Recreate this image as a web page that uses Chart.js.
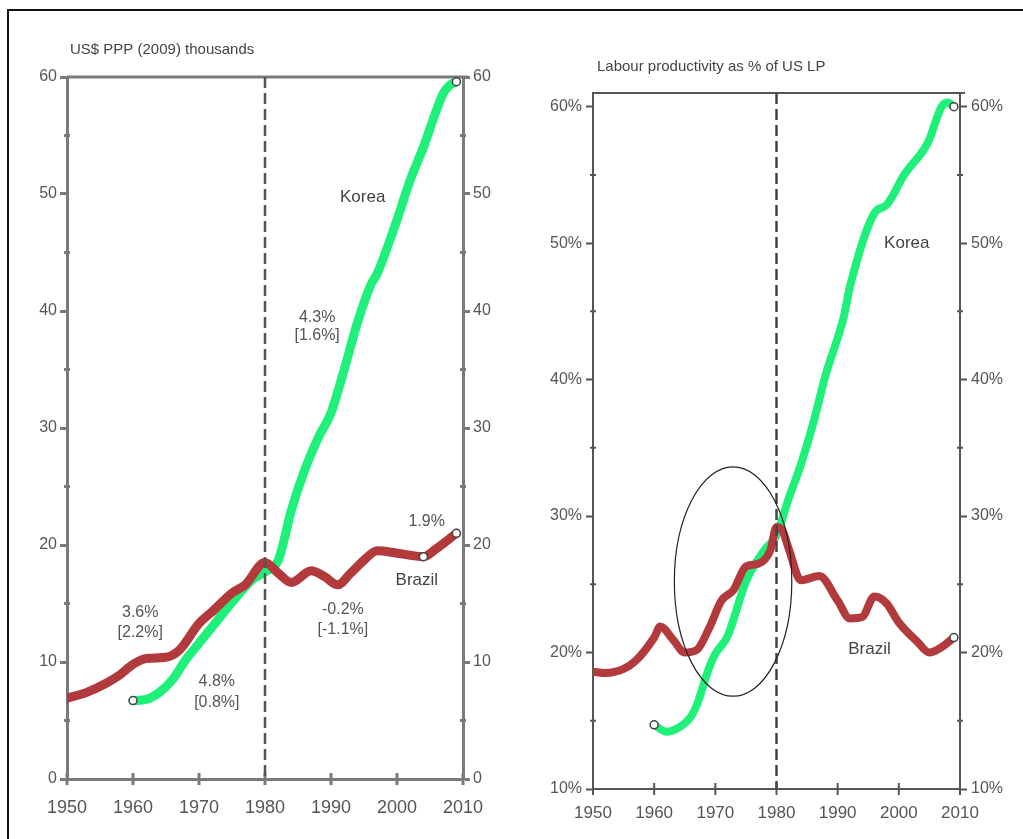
<!DOCTYPE html>
<html>
<head>
<meta charset="utf-8">
<script src="https://cdn.jsdelivr.net/npm/chart.js@4.4.1/dist/chart.umd.min.js"></script>
<style>
  body { margin: 0; background: #fff; }
  #frame { position: absolute; left: 7px; top: 9px; width: 1040px; height: 860px; border: 2px solid #111; box-sizing: border-box; }
  canvas { position: absolute; top: 0; }
</style>
</head>
<body>
<div id="frame"></div>
<canvas id="left" width="510" height="839" style="left:0"></canvas>
<canvas id="right" width="513" height="839" style="left:510px"></canvas>
<script>
// left panel: US$ PPP (2009) thousands
const brazilYearsL = [1950, 1953, 1956, 1958, 1960, 1962, 1965, 1967, 1970, 1972, 1975, 1977, 1980, 1982, 1984, 1987, 1989, 1991, 1993, 1995, 1997, 2000, 2004, 2006, 2009];
const brazilGdp    = [6.9, 7.4, 8.2, 8.9, 9.8, 10.3, 10.4, 11.0, 13.3, 14.3, 15.9, 16.6, 18.5, 17.6, 16.8, 17.8, 17.3, 16.6, 17.6, 18.7, 19.5, 19.3, 19.0, 19.7, 21.0];
const koreaYearsL  = [1960, 1962, 1964, 1966, 1968, 1970, 1972, 1975, 1978, 1980, 1982, 1984, 1986, 1988, 1990, 1992, 1994, 1996, 1997, 2000, 2002, 2004, 2006, 2007, 2008, 2009];
const koreaGdp     = [6.7, 6.8, 7.4, 8.5, 10.2, 11.6, 13.0, 15.1, 17.0, 17.7, 18.7, 23.0, 26.4, 29.1, 31.3, 35.0, 39.0, 42.2, 43.2, 47.8, 51.2, 54.0, 57.2, 58.6, 59.3, 59.6];
const brazilMarksL = [2004, 2009];
const koreaMarksL  = [1960, 2009];
const gdpTicks     = [0, 10, 20, 30, 40, 50, 60];

// right panel: labour productivity as % of US
const brazilYearsR = [1950, 1952, 1955, 1957, 1960, 1961, 1963, 1965, 1967, 1969, 1971, 1973, 1975, 1977, 1979, 1980, 1981, 1982, 1984, 1987, 1990, 1992, 1994, 1996, 1998, 2000, 2003, 2005, 2007, 2009];
const brazilLP     = [18.6, 18.5, 18.8, 19.4, 21.1, 21.9, 21.0, 20.0, 20.2, 21.8, 23.8, 24.6, 26.3, 26.5, 27.5, 29.2, 28.9, 27.6, 25.3, 25.6, 23.8, 22.5, 22.6, 24.1, 23.6, 22.2, 20.8, 20.0, 20.4, 21.1];
const koreaYearsR  = [1960, 1962, 1964, 1966, 1967, 1969, 1970, 1972, 1975, 1978, 1980, 1982, 1984, 1986, 1988, 1991, 1992, 1996, 1998, 2001, 2004, 2005, 2006, 2007, 2008, 2009];
const koreaLP      = [14.7, 14.2, 14.5, 15.3, 16.2, 18.9, 19.9, 21.2, 25.2, 27.5, 28.6, 31.3, 33.8, 36.8, 40.3, 44.6, 46.8, 52.2, 52.8, 55.1, 56.8, 57.6, 58.9, 60.0, 60.3, 60.0];
const brazilMarksR = [2009];
const koreaMarksR  = [1960, 2009];
const lpTicks      = [10, 20, 30, 40, 50, 60];

const yearTicks = [1950, 1960, 1970, 1980, 1990, 2000, 2010];
const breakYear = 1980;

const BRAZIL = '#b23a3c';
const KOREA = '#1ef07a';
const FONT = 'Liberation Sans, Arial, sans-serif';

const extras = {
  id: 'extras',
  beforeDatasetsDraw(chart, args, o) {
    const { ctx, chartArea: a, scales: { x, y } } = chart;
    ctx.save();
    ctx.strokeStyle = o.axisColor;
    ctx.lineWidth = o.axisWidth;
    ctx.beginPath();
    ctx.moveTo(a.left, a.top);
    ctx.lineTo(a.right + 5, a.top);
    ctx.stroke();
    // minor ticks every 5 units
    for (let v = Math.ceil(y.min / 10) * 10 + 5; v < y.max; v += 10) {
      const py = y.getPixelForValue(v);
      ctx.beginPath();
      ctx.moveTo(a.left - 3, py); ctx.lineTo(a.left + 3, py);
      ctx.moveTo(a.right - 3, py); ctx.lineTo(a.right + 3, py);
      ctx.stroke();
    }
    // x ticks crossing the axis
    yearTicks.forEach(t => {
      const px = x.getPixelForValue(t);
      ctx.beginPath();
      ctx.moveTo(px, a.bottom - 6); ctx.lineTo(px, a.bottom + 6);
      ctx.stroke();
    });
    ctx.restore();
  },
  afterDatasetsDraw(chart, args, o) {
    const { ctx, chartArea: a, scales: { x, y } } = chart;
    ctx.save();
    const px = x.getPixelForValue(breakYear);
    ctx.strokeStyle = o.dashColor;
    ctx.lineWidth = 2.5;
    ctx.setLineDash([11, 5]);
    ctx.beginPath();
    ctx.moveTo(px, a.top); ctx.lineTo(px, a.bottom);
    ctx.stroke();
    ctx.setLineDash([]);
    if (o.ellipse) {
      const e = o.ellipse;
      const cx = x.getPixelForValue(e.x), cy = y.getPixelForValue(e.y);
      const rx = Math.abs(x.getPixelForValue(e.x + e.rx) - cx);
      const ry = Math.abs(y.getPixelForValue(e.y + e.ry) - cy);
      ctx.strokeStyle = '#222';
      ctx.lineWidth = 1.2;
      ctx.beginPath();
      ctx.ellipse(cx, cy, rx, ry, 0, 0, Math.PI * 2);
      ctx.stroke();
    }
    ctx.restore();
  },
  afterDraw(chart, args, o) {
    const { ctx, scales: { x, y } } = chart;
    ctx.save();
    ctx.textBaseline = 'middle';
    ctx.textAlign = 'center';
    o.notes.forEach(n => {
      ctx.font = (n.size || 16) + 'px ' + FONT;
      ctx.fillStyle = n.color || '#555';
      ctx.fillText(n.text, x.getPixelForValue(n.x), y.getPixelForValue(n.y));
    });
    ctx.textAlign = 'left';
    ctx.font = '15px ' + FONT;
    ctx.fillStyle = '#444';
    ctx.fillText(o.title, o.titleX, o.titleY);
    ctx.restore();
  }
};

function series(years, vals, color, marks, width) {
  return {
    data: years.map((yr, i) => ({ x: yr, y: vals[i] })),
    borderColor: color,
    borderWidth: width,
    borderJoinStyle: 'round',
    borderCapStyle: 'round',
    cubicInterpolationMode: 'monotone',
    pointRadius: c => marks.includes(c.raw.x) ? 4 : 0,
    pointHoverRadius: 0,
    pointBackgroundColor: '#fff',
    pointBorderColor: '#444',
    pointBorderWidth: 1.5
  };
}

function makeChart(id, p) {
  const tickFont = { family: FONT, size: p.tickSize };
  const yAxis = (pos, w) => ({
    position: pos,
    min: p.yMin,
    max: p.yMax,
    afterFit: s => { s.width = w; },
    afterBuildTicks: s => { s.ticks = p.yTicks.map(v => ({ value: v })); },
    ticks: { callback: p.fmt, font: tickFont, color: '#555', padding: p.yPad },
    grid: { drawOnChartArea: false, tickLength: 7, tickColor: p.axisColor, tickWidth: p.axisWidth },
    border: { color: p.axisColor, width: p.axisWidth }
  });
  return new Chart(document.getElementById(id), {
    type: 'line',
    data: { datasets: p.datasets },
    plugins: [extras],
    options: {
      responsive: false,
      animation: false,
      events: [],
      layout: { padding: { top: p.top, left: 0, right: 0, bottom: 0 } },
      scales: {
        x: {
          type: 'linear',
          min: 1950,
          max: 2010,
          afterFit: s => { s.height = p.xH; },
          afterBuildTicks: s => { s.ticks = yearTicks.map(v => ({ value: v })); },
          ticks: { callback: v => String(v), font: { family: FONT, size: p.xSize }, color: '#555', padding: p.xPad, maxRotation: 0, autoSkip: false },
          grid: { drawOnChartArea: false, drawTicks: false },
          border: { color: p.axisColor, width: p.axisWidth }
        },
        y: yAxis('left', p.leftW),
        y2: yAxis('right', p.rightW)
      },
      plugins: {
        legend: { display: false },
        tooltip: { enabled: false },
        extras: p.extras
      }
    }
  });
}

makeChart('left', {
  datasets: [
    series(brazilYearsL, brazilGdp, BRAZIL, brazilMarksL, 9),
    series(koreaYearsL, koreaGdp, KOREA, koreaMarksL, 9)
  ],
  yMin: 0, yMax: 60, yTicks: gdpTicks, fmt: v => String(v),
  top: 77, xH: 60, leftW: 67, rightW: 47,
  tickSize: 16, xSize: 18, yPad: 3, xPad: 18,
  axisColor: '#7a7a7a', axisWidth: 3,
  extras: {
    axisColor: '#7a7a7a', axisWidth: 3, dashColor: '#555',
    title: 'US$ PPP (2009) thousands', titleX: 70, titleY: 50,
    notes: [
      { text: 'Korea', x: 1994.8, y: 49.7, size: 17, color: '#444' },
      { text: '4.3%', x: 1987.9, y: 39.4 },
      { text: '[1.6%]', x: 1987.9, y: 37.9 },
      { text: '3.6%', x: 1961.1, y: 14.2 },
      { text: '[2.2%]', x: 1961.1, y: 12.5 },
      { text: '4.8%', x: 1972.7, y: 8.3 },
      { text: '[0.8%]', x: 1972.7, y: 6.5 },
      { text: '-0.2%', x: 1991.8, y: 14.5 },
      { text: '[-1.1%]', x: 1991.8, y: 12.8 },
      { text: '1.9%', x: 2004.5, y: 22.0 },
      { text: 'Brazil', x: 2003, y: 17.0, size: 17, color: '#444' }
    ]
  }
});

makeChart('right', {
  datasets: [
    series(brazilYearsR, brazilLP, BRAZIL, brazilMarksR, 8),
    series(koreaYearsR, koreaLP, KOREA, koreaMarksR, 8)
  ],
  yMin: 10, yMax: 61, yTicks: lpTicks, fmt: v => v + '%',
  top: 93, xH: 50, leftW: 83, rightW: 63,
  tickSize: 16, xSize: 17, yPad: 4, xPad: 14,
  axisColor: '#555', axisWidth: 2,
  extras: {
    axisColor: '#555', axisWidth: 2, dashColor: '#444',
    title: 'Labour productivity as % of US LP', titleX: 87, titleY: 67,
    ellipse: { x: 1972.9, y: 25.2, rx: 9.6, ry: 8.4 },
    notes: [
      { text: 'Korea', x: 2001.3, y: 50.0, size: 17, color: '#444' },
      { text: 'Brazil', x: 1995.2, y: 20.2, size: 17, color: '#444' }
    ]
  }
});
</script>
</body>
</html>
